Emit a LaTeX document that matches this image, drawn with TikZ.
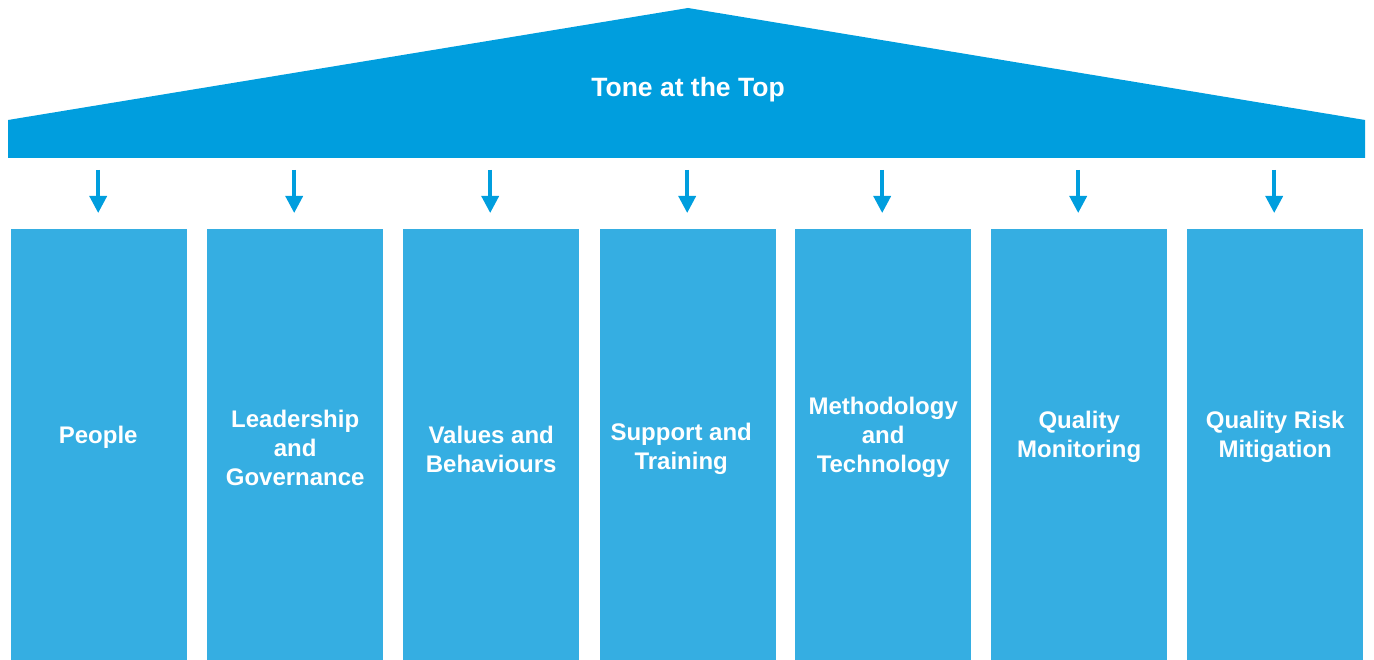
\documentclass[tikz,border=0pt]{standalone}
\usepackage{fontspec}
\setmainfont{Liberation Sans}
\usetikzlibrary{arrows.meta}
\definecolor{roofblue}{RGB}{0,158,222}
\definecolor{colblue}{RGB}{53,174,226}
\tikzset{
  pillar/.style={fill=colblue, draw=none, minimum width=176pt, minimum height=431pt, anchor=north west, inner sep=0pt},
  pillartext/.style={text=white, font=\bfseries\fontsize{24}{29}\selectfont, align=center},
  downarrow/.style={draw=roofblue, line width=3.5pt, -{Triangle[width=17pt,length=17pt]}},
}
\begin{document}
\begin{tikzpicture}[x=1pt,y=-1pt]
\useasboundingbox (0,0) rectangle (1374,660);
\fill[roofblue] (8,120) -- (688,8) -- (1365,120) -- (1365,158) -- (8,158) -- cycle;
\node[text=white, font=\bfseries\fontsize{26.5}{30}\selectfont] (roof) at (688,90) {Tone at the Top};
\foreach \i/\x in {1/11,2/207,3/403,4/600,5/795,6/991,7/1187}{
  \node[pillar] (p\i) at (\x,229) {};
  \coordinate (a\i) at ([yshift=59pt]p\i.north);
  \coordinate (b\i) at ([yshift=16pt]p\i.north);
  \draw[downarrow] ([xshift=-1pt]a\i) -- ([xshift=-1pt]b\i);
}
\node[pillartext] (t1) at ([xshift=-1pt]p1.center |- 0,437) {People};
\node[pillartext] (t2) at (p2.center |- 0,448) {Leadership\\and\\Governance};
\node[pillartext] (t3) at (p3.center |- 0,449) {Values and\\Behaviours};
\node[pillartext] (t4) at ([xshift=-7pt]p4.center |- 0,449) {Support and\\Training};
\node[pillartext] (t5) at (p5.center |- 0,437) {Methodology\\and\\Technology};
\node[pillartext] (t6) at (p6.center |- 0,437) {Quality\\Monitoring};
\node[pillartext] (t7) at (p7.center |- 0,437) {Quality Risk\\Mitigation};
\end{tikzpicture}
\end{document}
